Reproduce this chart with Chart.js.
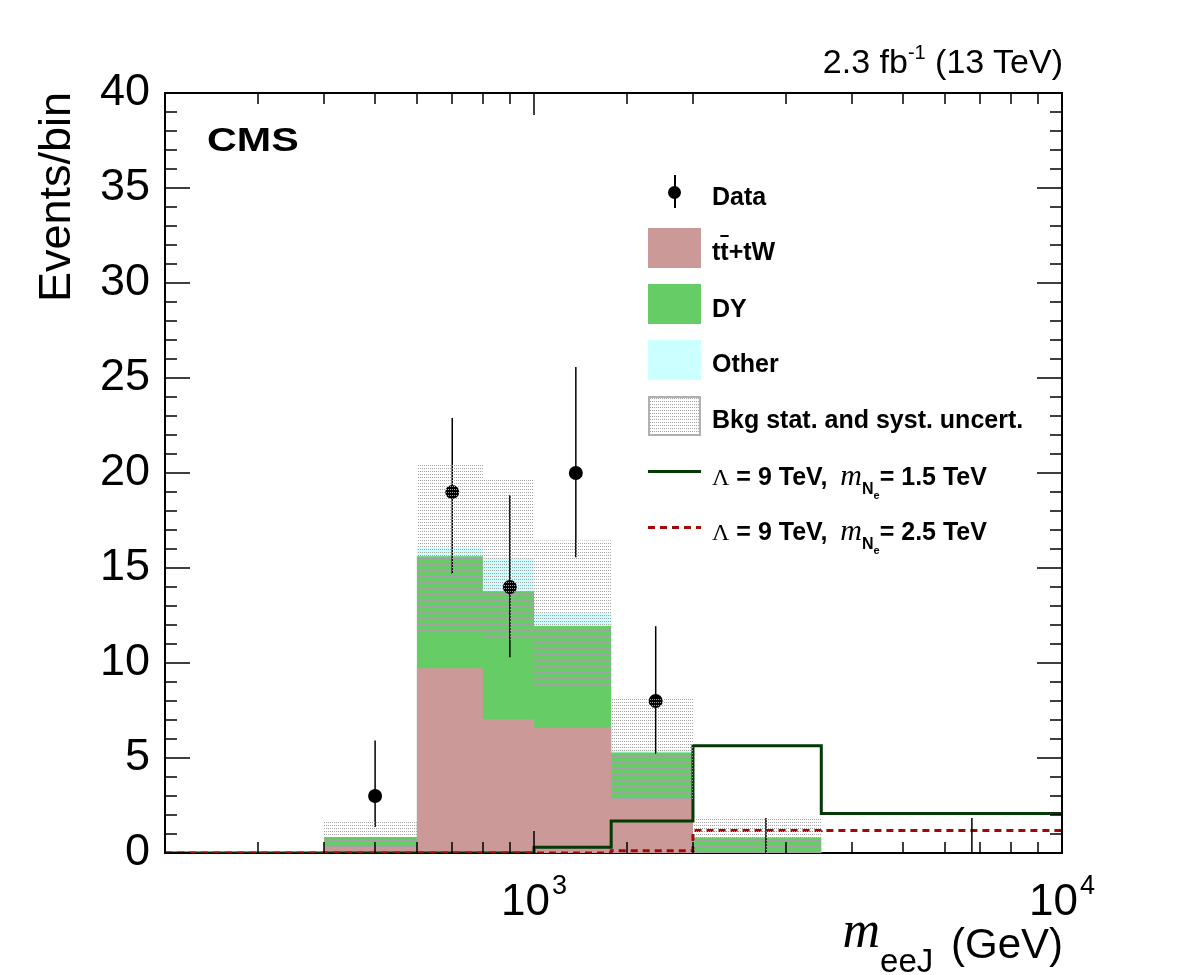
<!DOCTYPE html>
<html>
<head>
<meta charset="utf-8">
<script src="https://cdn.jsdelivr.net/npm/chart.js@4.4.0/dist/chart.umd.min.js"></script>
<style>
  body { margin: 0; background: #fff; }
  #wrap { position: relative; width: 1182px; height: 975px; font-family: "Liberation Sans", Arial, sans-serif; color: #000; }
  #wrap canvas { position: absolute; left: 0; top: 0; }
  .txt { position: absolute; white-space: nowrap; line-height: 1; }
  .ser { font-family: "Liberation Serif", "Times New Roman", serif; font-weight: normal; }
  .leg { font-size: 25px; line-height: 25px; font-weight: bold; left: 712px; }
  .box { position: absolute; left: 648px; width: 53px; height: 40px; }
  .lm { font-size: 30px; margin-left: 6px; }
  .ln { font-size: 16px; position: relative; top: 9px; }
  .le { font-size: 11px; position: relative; top: 5px; }
</style>
</head>
<body>
<div id="wrap">
  <canvas id="c" width="1182" height="975"></canvas>

  <div class="txt" style="right:119px; top:44px; font-size:34px">2.3 fb<span style="font-size:20px; position:relative; top:-14px">-1</span> (13 TeV)</div>
  <div class="txt" style="left:207px; top:123px; font-size:33px; font-weight:bold; transform:scaleX(1.25); transform-origin:0 0">CMS</div>
  <div class="txt" style="left:32px; top:412px; width:320px; text-align:right; font-size:45px; transform-origin:0 0; transform:rotate(-90deg)">Events/bin</div>
  <div class="txt" style="right:119px; top:920px; font-size:42px; line-height:42px"><i class="ser" style="font-size:52px; position:relative; top:-11px">m</i><span style="font-size:33px; position:relative; top:14px; margin-right:6px">eeJ</span> (GeV)</div>

  <!-- legend -->
  <div style="position:absolute; left:674px; top:175px; width:1.5px; height:33px; background:#000"></div>
  <div style="position:absolute; left:668px; top:186px; width:13px; height:13px; border-radius:50%; background:#000"></div>
  <div class="txt leg" style="top:184px">Data</div>

  <div class="box" style="top:228px; background:#cc9999"></div>
  <div class="txt leg" style="top:239px">t<span style="text-decoration:overline">t</span>+tW</div>

  <div class="box" style="top:284px; background:#66cc66"></div>
  <div class="txt leg" style="top:296px">DY</div>

  <div class="box" style="top:340px; background:#ccffff"></div>
  <div class="txt leg" style="top:351px">Other</div>

  <div class="box" id="bandBox" style="top:396px; box-sizing:border-box; border:2px solid #b0b0b0"></div>
  <div class="txt leg" style="top:407px">Bkg stat. and syst. uncert.</div>

  <div style="position:absolute; left:648px; top:470px; width:53px; height:3px; background:#033a03"></div>
  <div class="txt leg" style="top:462px"><span class="ser" style="font-size:24px">&Lambda;</span> = 9 TeV, <i class="ser lm">m</i><span class="ln">N<span class="le">e</span></span>= 1.5 TeV</div>

  <div style="position:absolute; left:648px; top:526px; width:53px; height:3px; background:repeating-linear-gradient(to right, #a30808 0 7px, transparent 7px 12px)"></div>
  <div class="txt leg" style="top:517px"><span class="ser" style="font-size:24px">&Lambda;</span> = 9 TeV, <i class="ser lm">m</i><span class="ln">N<span class="le">e</span></span>= 2.5 TeV</div>
</div>

<script>
// histogram binning in m_eeJ (GeV)
var binEdges = [200, 400, 600, 800, 1000, 1400, 2000, 3500, 10000];

// background stack (events/bin)
var ttbarTW = [0, 0.30, 9.73, 7.04, 6.59, 2.87, 0, 0];
var drellYan = [0, 0.54, 5.89, 6.73, 5.36, 2.42, 0.82, 0];
var otherBkg = [0, 0, 0.46, 1.77, 0.69, 0.15, 0, 0];

// stat+syst band edges
var bkgUncUp = [0, 1.63, 20.5, 19.74, 16.45, 8.18, 1.87, 0];
var bkgUncDown = [0, 0.05, 11.57, 11.22, 8.75, 2.80, 0, 0];

// signal hypotheses, Lambda = 9 TeV
var signal15 = [0, 0, 0, 0, 0.30, 1.68, 5.64, 2.08];
var signal25 = [0, 0, 0, 0, 0, 0.12, 1.18, 1.19];

// observed data
var dataMass = [500, 700, 900, 1200, 1700, 2750, 6750];
var dataEvents = [3, 19, 14, 20, 8, 0, 0];
var dataErrUp = [5.92, 22.9, 18.83, 25.58, 11.94, 1.84, 1.84];
var dataErrDown = [1.37, 14.68, 10.30, 15.56, 5.23, 0, 0];

var yMax = 40;
var xMin = 200, xMax = 10000;

Chart.defaults.font.family = '"Liberation Sans", Arial, sans-serif';

function histPoints(values) {
  var pts = values.map(function (v, i) { return { x: binEdges[i], y: v }; });
  pts.push({ x: binEdges[binEdges.length - 1], y: values[values.length - 1] });
  return pts;
}

function addUp() {
  var layers = Array.prototype.slice.call(arguments);
  return layers[0].map(function (_, i) {
    return layers.reduce(function (s, l) { return s + l[i]; }, 0);
  });
}

function isDecade(v) {
  var l = Math.log10(v);
  return Math.abs(l - Math.round(l)) < 1e-6;
}

// gray dots, same look as the ROOT fill style
var dotTile = document.createElement('canvas');
dotTile.width = 2;
dotTile.height = 3;
var dctx = dotTile.getContext('2d');
dctx.fillStyle = '#a2a2a2';
dctx.fillRect(0, 0, 1, 1);
document.getElementById('bandBox').style.backgroundImage = 'url(' + dotTile.toDataURL() + ')';

var canvas = document.getElementById('c');
var dotFill = canvas.getContext('2d').createPattern(dotTile, 'repeat');

var DATA_INDEX = 2;

var errorBars = {
  id: 'errorBars',
  afterDatasetDraw: function (chart, args) {
    if (args.index !== DATA_INDEX) return;
    var ctx = chart.ctx, xs = chart.scales.x, ys = chart.scales.y;
    ctx.save();
    ctx.strokeStyle = '#000';
    ctx.lineWidth = 1.5;
    ctx.beginPath();
    dataMass.forEach(function (m, i) {
      var px = xs.getPixelForValue(m);
      ctx.moveTo(px, ys.getPixelForValue(dataErrDown[i]));
      ctx.lineTo(px, ys.getPixelForValue(dataErrUp[i]));
    });
    ctx.stroke();
    ctx.restore();
  }
};

// ROOT-like frame, inward ticks on all four sides, 10^n labels
var rootFrame = {
  id: 'rootFrame',
  beforeDatasetsDraw: function (chart) {
    var ctx = chart.ctx, a = chart.chartArea;
    ctx.save();
    ctx.strokeStyle = '#000';
    ctx.lineWidth = 2;
    ctx.strokeRect(a.left, a.top, a.right - a.left, a.bottom - a.top);
    ctx.restore();
  },
  afterDatasetsDraw: function (chart) {
    var ctx = chart.ctx, a = chart.chartArea;
    var xs = chart.scales.x, ys = chart.scales.y;
    ctx.save();
    ctx.strokeStyle = '#000';
    ctx.lineWidth = 2;
    ctx.beginPath();
    ctx.moveTo(a.left, a.top); ctx.lineTo(a.right, a.top); ctx.lineTo(a.right, a.bottom);
    ctx.moveTo(a.left, a.top); ctx.lineTo(a.left, a.bottom);
    ctx.stroke();

    ctx.lineWidth = 1.5;
    ctx.beginPath();
    xs.ticks.forEach(function (t) {
      var px = Math.round(xs.getPixelForValue(t.value));
      var len = isDecade(t.value) ? 22 : 11;
      ctx.moveTo(px, a.bottom); ctx.lineTo(px, a.bottom - len);
      ctx.moveTo(px, a.top); ctx.lineTo(px, a.top + len);
    });
    ys.ticks.forEach(function (t) {
      var py = Math.round(ys.getPixelForValue(t.value));
      var len = t.value % 5 === 0 ? 25 : 12;
      ctx.moveTo(a.left, py); ctx.lineTo(a.left + len, py);
      ctx.moveTo(a.right, py); ctx.lineTo(a.right - len, py);
    });
    ctx.stroke();

    ctx.fillStyle = '#000';
    ctx.textBaseline = 'alphabetic';
    ctx.textAlign = 'left';
    xs.ticks.forEach(function (t) {
      if (!isDecade(t.value)) return;
      var px = xs.getPixelForValue(t.value);
      var exp = String(Math.round(Math.log10(t.value)));
      ctx.font = '44px "Liberation Sans", Arial, sans-serif';
      var w1 = ctx.measureText('10').width;
      ctx.font = '27px "Liberation Sans", Arial, sans-serif';
      var w2 = ctx.measureText(exp).width;
      var x0 = px - (w1 + w2 + 2) / 2;
      ctx.font = '44px "Liberation Sans", Arial, sans-serif';
      ctx.fillText('10', x0, a.bottom + 62);
      ctx.font = '27px "Liberation Sans", Arial, sans-serif';
      ctx.fillText(exp, x0 + w1 + 2, a.bottom + 41);
    });
    ctx.restore();
  }
};

function histSet(label, values, extra) {
  var ds = {
    label: label,
    data: histPoints(values),
    stepped: true,
    pointRadius: 0,
    pointHoverRadius: 0,
    borderWidth: 0,
    borderColor: 'rgba(0,0,0,0)',
    fill: false
  };
  for (var k in extra) ds[k] = extra[k];
  return ds;
}

new Chart(canvas, {
  type: 'line',
  data: {
    datasets: [
      histSet('band low', bkgUncDown, { order: 0 }),
      histSet('Bkg stat. and syst. uncert.', bkgUncUp, { order: 0, fill: '-1', backgroundColor: dotFill }),
      {
        label: 'Data',
        data: dataMass.map(function (m, i) { return { x: m, y: dataEvents[i] }; }),
        showLine: false,
        pointRadius: dataEvents.map(function (v) { return v > 0 ? 7 : 0; }),
        pointHoverRadius: 0,
        pointBackgroundColor: '#000',
        pointBorderWidth: 0,
        order: 1
      },
      histSet('Lambda = 9 TeV, mN = 1.5 TeV', signal15, { order: 3, borderWidth: 3, borderColor: '#033a03' }),
      histSet('Lambda = 9 TeV, mN = 2.5 TeV', signal25, { order: 2, borderWidth: 3, borderColor: '#a30808', borderDash: [7, 5] }),
      histSet('tt+tW', ttbarTW, { order: 4, fill: 'origin', backgroundColor: '#cc9999' }),
      histSet('DY', addUp(ttbarTW, drellYan), { order: 5, fill: 'origin', backgroundColor: '#66cc66' }),
      histSet('Other', addUp(ttbarTW, drellYan, otherBkg), { order: 6, fill: 'origin', backgroundColor: '#ccffff' })
    ]
  },
  options: {
    responsive: false,
    animation: false,
    devicePixelRatio: 1,
    events: [],
    layout: { padding: { left: 0, top: 93, right: 120, bottom: 0 } },
    plugins: {
      legend: { display: false },
      tooltip: { enabled: false }
    },
    scales: {
      x: {
        type: 'logarithmic',
        min: xMin,
        max: xMax,
        grid: { display: false },
        border: { display: false },
        ticks: { display: false, autoSkip: false },
        afterFit: function (s) { s.height = 122; }
      },
      y: {
        min: 0,
        max: yMax,
        grid: { display: false },
        border: { display: false },
        ticks: {
          stepSize: 1,
          autoSkip: false,
          padding: 7,
          color: '#000',
          font: { size: 45 },
          callback: function (v) { return v % 5 === 0 ? v : ''; }
        },
        afterFit: function (s) { s.width = 165; }
      }
    }
  },
  plugins: [errorBars, rootFrame]
});
</script>
</body>
</html>
